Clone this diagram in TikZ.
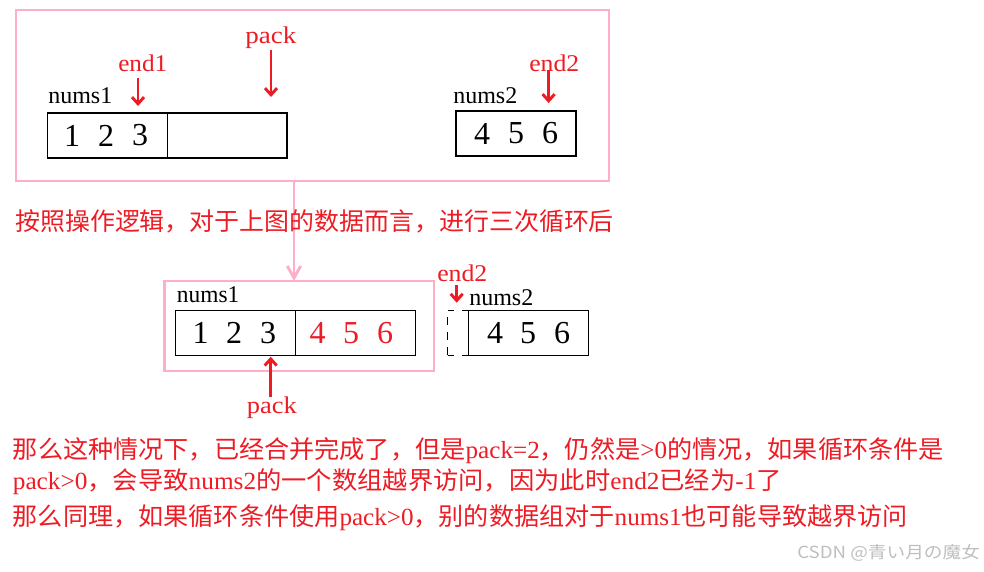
\documentclass[tikz,border=0pt]{standalone}
\usepackage{fontspec}
\setmainfont{Liberation Serif}
\newfontfamily\cjk{Noto Sans CJK SC}
\usepackage{graphicx}
\usetikzlibrary{arrows.meta}
\definecolor{pred}{RGB}{237,28,36}
\definecolor{ppink}{RGB}{255,174,201}
\definecolor{wgray}{RGB}{190,190,190}
\newlength\fitlen
\newcommand\fitto[2]{\settowidth\fitlen{#2}\pgfmathsetmacro\fitratio{#1/\fitlen}\scalebox{\fitratio}[1]{#2}}
\tikzset{
  lbl/.style={font=\fontsize{18pt}{20pt}\selectfont, inner sep=0pt, anchor=west},
  rlbl/.style={lbl, text=pred},
  digit/.style={font=\fontsize{24pt}{26pt}\selectfont, inner sep=0pt},
  rdigit/.style={digit, text=pred},
  cell/.style={draw=black, line width=0.8pt},
  dcell/.style={draw=black, line width=0.8pt},
  ptr/.style={draw=pred, line width=2.2pt, -{Straight Barb[length=5pt,width=9pt]}},
  frame/.style={draw=ppink, line width=2.2pt},
  flow/.style={draw=ppink, line width=2.2pt, -{Straight Barb[length=9pt,width=10pt]}},
  cjkline/.style={text=pred, font=\fontsize{18.5pt}{20pt}\selectfont, inner sep=0pt, anchor=west},
}
\begin{document}
\begin{tikzpicture}[x=0.75pt,y=-0.75pt]
\useasboundingbox (0,0) rectangle (984,571);
% top frame
\coordinate (tf1) at (16,10);
\coordinate (tf2) at (609,181);
\draw[frame] (tf1) rectangle (tf2);
% bottom frame
\coordinate (bf1) at (164.7,281);
\coordinate (bf2) at (434,371);
\draw[frame] (bf1) rectangle (bf2);
% flow arrow
\coordinate (flowA) at (294,181);
\coordinate (flowB) at (294,281);
\draw[flow] (flowA) -- (flowB);

% ---- top: nums1 ----
\draw[cell] (47.4,113) rectangle (287,158);
\draw[cell] (167.6,113) -- (167.6,158);
\node[digit] (t1) at (72,135.5) {1};
\node[digit] (t2) at (106,135.5) {2};
\node[digit] (t3) at (140,135.5) {3};
\node[lbl] (tn1) at (48,96) {\fitto{48pt}{nums1}};
\node[rlbl] (te1) at (118,63) {\fitto{36.75pt}{end1}};
\node[rlbl] (tp) at (245,38) {\fitto{38.25pt}{pack}};
\coordinate (te1a) at (138,78);
\coordinate (te1b) at (138,106);
\draw[ptr] (te1a) -- (te1b);
\coordinate (tpa) at (271,50);
\coordinate (tpb) at (271,97);
\draw[ptr] (tpa) -- (tpb);

% ---- top: nums2 ----
\draw[cell] (456,111) rectangle (576,156);
\node[digit] (t4) at (482,133.5) {4};
\node[digit] (t5) at (516,133.5) {5};
\node[digit] (t6) at (550,133.5) {6};
\node[lbl] (tn2) at (453,96) {\fitto{48pt}{nums2}};
\node[rlbl] (te2) at (529,63) {\fitto{37.5pt}{end2}};
\coordinate (te2a) at (548.6,70);
\coordinate (te2b) at (548.6,103);
\draw[ptr] (te2a) -- (te2b);

% middle sentence
\node[cjkline] (s1) at (15,221) {\fitto{449pt}{\cjk 按照操作逻辑，对于上图的数据而言，进行三次循环后}};

% ---- bottom: nums1 ----
\draw[cell] (175.3,310.7) rectangle (415.3,355.3);
\draw[cell] (295.7,310.7) -- (295.7,355.3);
\node[digit] (b1) at (200.7,333) {1};
\node[digit] (b2) at (234,333) {2};
\node[digit] (b3) at (268,333) {3};
\node[rdigit] (b4) at (317.7,333) {4};
\node[rdigit] (b5) at (351,333) {5};
\node[rdigit] (b6) at (385,333) {6};
\node[lbl] (bn1) at (176.7,295) {\fitto{46.75pt}{nums1}};
\node[rlbl] (bp) at (246.7,408) {\fitto{37.5pt}{pack}};
\coordinate (bpa) at (270.7,397);
\coordinate (bpb) at (270.7,356.7);
\draw[ptr] (bpa) -- (bpb);

% ---- bottom: nums2 ----
\draw[dcell, dash pattern=on 6pt off 5.5pt] (447.7,355.3) -- (447.7,310.7);
\draw[dcell, dash pattern=on 4.5pt off 6.5pt] (447.7,310.7) -- (468.3,310.7);
\draw[dcell, dash pattern=on 4.5pt off 6.5pt] (447.7,355.3) -- (468.3,355.3);
\draw[cell] (468.3,310.7) rectangle (588.3,355.3);
\node[digit] (b7) at (495,333) {4};
\node[digit] (b8) at (528,333) {5};
\node[digit] (b9) at (562,333) {6};
\node[lbl] (bn2) at (469,297.7) {\fitto{48pt}{nums2}};
\node[rlbl] (be2) at (437,273) {\fitto{37.5pt}{end2}};
\coordinate (be2a) at (456.7,285);
\coordinate (be2b) at (456.7,302.7);
\draw[ptr] (be2a) -- (be2b);

% bottom text
\node[cjkline] (l1) at (12.6,451) {\fitto{698.25pt}{{\cjk 那么这种情况下，已经合并完成了，但是}pack=2{\cjk ，仍然是}>0{\cjk 的情况，如果循环条件是}}};
\node[cjkline] (l2) at (12.6,482) {\fitto{576.75pt}{pack>0{\cjk ，会导致}nums2{\cjk 的一个数组越界访问，因为此时}end2{\cjk 已经为}-1{\cjk 了}}};
\node[cjkline] (l3) at (12.6,518) {\fitto{671.25pt}{{\cjk 那么同理，如果循环条件使用}pack>0{\cjk ，别的数据组对于}nums1{\cjk 也可能导致越界访问}}};

% watermark
\node[inner sep=0pt, anchor=west, text=wgray, font=\cjk\fontsize{12.5pt}{14pt}\selectfont] (wm) at (797,553) {\fitto{137pt}{CSDN @青い月の魔女}};
\end{tikzpicture}
\end{document}
